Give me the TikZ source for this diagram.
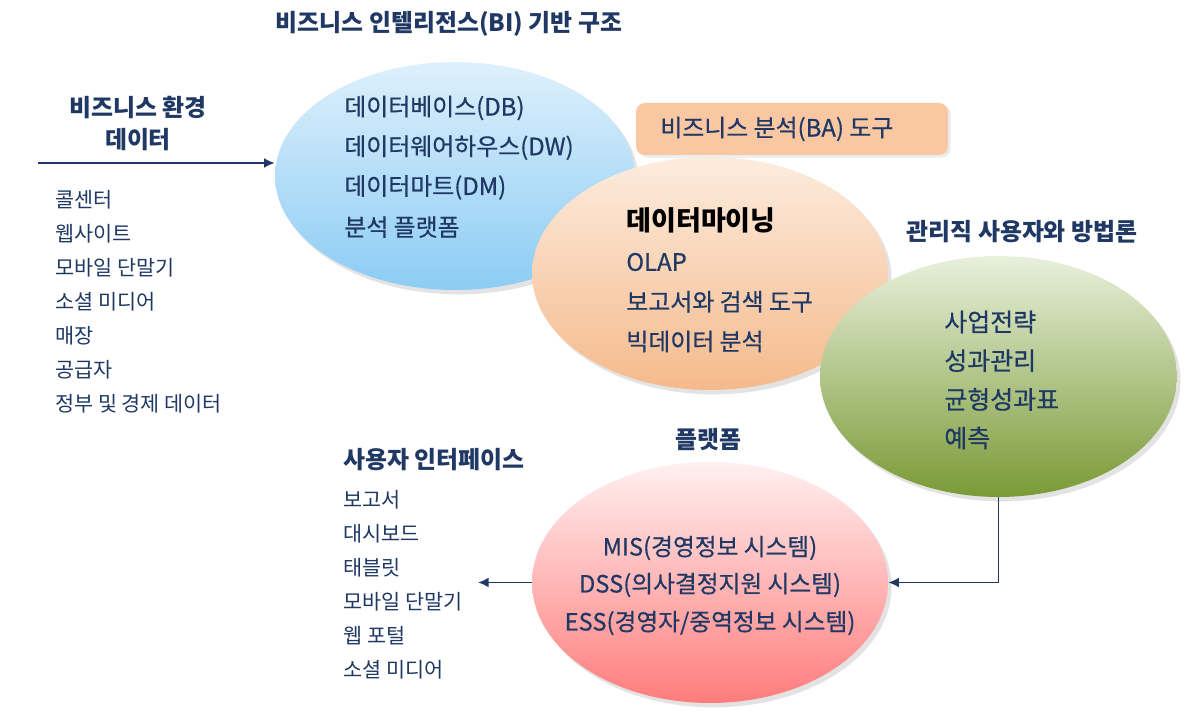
\documentclass[tikz,border=0pt]{standalone}
\usepackage{fontspec}
\setmainfont{Noto Sans CJK KR}
\newfontfamily\medfont[FakeBold=0.6]{Noto Sans CJK KR}
\usetikzlibrary{shapes.geometric,shadows,arrows.meta}
\definecolor{navy}{RGB}{31,56,100}
\definecolor{blueT}{RGB}{222,240,252}
\definecolor{blueB}{RGB}{140,204,244}
\definecolor{orT}{RGB}{252,236,222}
\definecolor{orB}{RGB}{245,186,140}
\definecolor{grT}{RGB}{232,240,220}
\definecolor{grB}{RGB}{122,154,54}
\definecolor{pkT}{RGB}{255,240,240}
\definecolor{pkB}{RGB}{255,124,124}
\definecolor{baFill}{RGB}{249,200,162}
\tikzset{
  bubble/.style={ellipse, inner sep=0pt, shading=axis, shading angle=0,
    drop shadow={opacity=0.22, shadow xshift=2pt, shadow yshift=-2.5pt}},
  head/.style={font=\fontsize{13.6}{16}\selectfont\bfseries, text=navy, inner sep=0pt},
  item/.style={font=\fontsize{11.8}{14}\selectfont, text=navy, inner sep=0pt, anchor=west},
  inner/.style={font=\fontsize{13.6}{16}\selectfont\medfont, text=navy, inner sep=0pt, anchor=west},
  centre/.style={font=\fontsize{13.5}{16}\selectfont\medfont, text=navy, inner sep=0pt},
  flow/.style={draw=navy, line width=0.9pt, -{Latex[length=6pt,width=5.5pt]}}
}
\begin{document}
\begin{tikzpicture}[x=0.02cm, y=-0.02cm]
\useasboundingbox (0,0) rectangle (1200,715);
\fill[white] (0,0) rectangle (1200,715);

% bubbles
\node[bubble, top color=blueT, bottom color=blueB, minimum width=7.2cm, minimum height=4.56cm] (bi) at (455,176) {};
\node[rectangle, rounded corners=5pt, fill=baFill, minimum width=6.24cm, minimum height=1.04cm, inner sep=0pt,
  drop shadow={opacity=0.15, shadow xshift=1.5pt, shadow yshift=-1.5pt}] (barect) at (792,129) {};
\node[bubble, top color=orT, bottom color=orB, minimum width=7.12cm, minimum height=4.66cm] (ba) at (710,273.5) {};
\node[bubble, top color=grT, bottom color=grB, minimum width=7.14cm, minimum height=4.82cm] (mg) at (998.5,376.5) {};
\node[bubble, top color=pkT, bottom color=pkB, minimum width=7.12cm, minimum height=4.82cm] (pf) at (710,582.5) {};

% headings
\node[head] (tbi) at (449,24) {비즈니스 인텔리전스(BI) 기반 구조};
\node[head] (tenv1) at (138,108) {비즈니스 환경};
\node[head] (tenv2) at (138,140) {데이터};
\node[head] (tmg) at (1022,232) {관리직 사용자와 방법론};
\node[head] (tpf) at (708,440) {플랫폼};
\node[head, anchor=west] (tui) at (343,460) {사용자 인터페이스};
\node[inner, anchor=west] (tba) at (660,129) {비즈니스 분석(BA) 도구};

% left list
\foreach \t [count=\i] in {콜센터, 웹사이트, 모바일 단말기, 소셜 미디어, 매장, 공급자, 정부 및 경제 데이터}
  \node[item] (env\i) at (55,{200+34*(\i-1)}) {\t};

% BI contents
\foreach \t [count=\i] in {데이터베이스(DB), 데이터웨어하우스(DW), 데이터마트(DM), 분석 플랫폼}
  \node[inner] (bi\i) at (344,{108+39.7*(\i-1)}) {\t};

% BA contents
\node[inner, font=\fontsize{15.4}{18}\selectfont\bfseries, text=black] (ba1) at (626,220) {데이터마이닝};
\foreach \t [count=\i from 2] in {OLAP, 보고서와 검색 도구, 빅데이터 분석}
  \node[inner] (ba\i) at (626,{262+39.7*(\i-2)}) {\t};

% management contents
\foreach \t [count=\i] in {사업전략, 성과관리, 균형성과표, 예측}
  \node[inner, font=\fontsize{14.2}{17}\selectfont\medfont] (mg\i) at (944,{322+38.7*(\i-1)}) {\t};

% platform contents
\node[centre] (pf1) at (710,548) {MIS(경영정보 시스템)};
\node[centre] (pf2) at (710,585) {DSS(의사결정지원 시스템)};
\node[centre] (pf3) at (710,623) {ESS(경영자/중역정보 시스템)};

% UI list
\foreach \t [count=\i] in {보고서, 대시보드, 태블릿, 모바일 단말기, 웹 포털, 소셜 미디어}
  \node[item] (ui\i) at (343,{500+34*(\i-1)}) {\t};

% connectors
\coordinate (envstart) at (38,163);
\coordinate (uiend) at (478,582.5);
\draw[flow] (envstart) -- (envstart -| bi.west);
\draw[flow] (mg.south) |- (pf.east);
\draw[flow] (pf.west) -- (uiend);
\end{tikzpicture}
\end{document}
